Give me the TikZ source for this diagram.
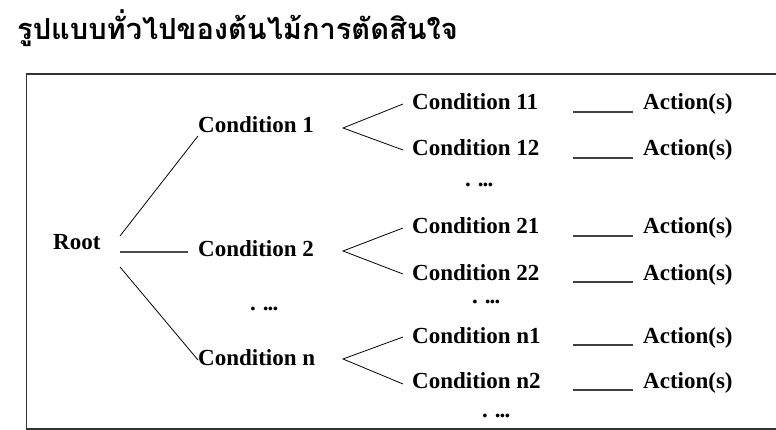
\documentclass[tikz,border=0pt]{standalone}
\usepackage{fontspec}
\setmainfont{Liberation Serif}
\newfontfamily\thaifont[Script=Thai]{Loma}
\newcommand\tdots{.\hspace{0.3em}.\kern-0.04em.\kern-0.04em.}
\begin{document}
\begin{tikzpicture}[x=1pt,y=-1pt,
  lbl/.style={font=\fontsize{23}{26}\selectfont\bfseries, inner sep=0pt, anchor=base west},
  dots/.style={font=\fontsize{23}{26}\selectfont\bfseries, inner sep=0pt, anchor=base west},
  branch/.style={draw=black, line width=0.8pt},
  actline/.style={draw=black!75, line width=1.2pt},
  frame/.style={draw=black!80, line width=1.3pt}]
\useasboundingbox (0,0) rectangle (776,430);
% title
\node[font=\thaifont\bfseries\fontsize{29}{32}\selectfont, inner sep=0pt, anchor=base west] (title) at (17,40) {รูปแบบทั่วไปของต้นไม้การตัดสินใจ};
% frame (open on right, cropped)
\draw[frame] (780,74) -- (26.5,74) -- (26.5,429) -- (780,429);
% level 0/1 nodes
\node[lbl] (root) at (53,250) {Root};
\node[lbl] (c1) at (198,133) {Condition 1};
\node[lbl] (c2) at (198,257) {Condition 2};
\node[lbl] (cn) at (198,365) {Condition n};
\node[dots] (d0) at (250,310) {\tdots};
% level 2 nodes
\node[lbl] (c11) at (412,110) {Condition 11};
\node[lbl] (c12) at (412,156) {Condition 12};
\node[dots] (d1) at (465,187) {\tdots};
\node[lbl] (c21) at (412,234) {Condition 21};
\node[lbl] (c22) at (412,280) {Condition 22};
\node[dots] (d2) at (472,303) {\tdots};
\node[lbl] (cn1) at (412,343) {Condition n1};
\node[lbl] (cn2) at (412,388) {Condition n2};
\node[dots] (d3) at (482,417) {\tdots};
% actions
\foreach \n/\y in {a11/110,a12/156,a21/234,a22/280,an1/343,an2/388}{
  \node[lbl] (\n) at (643,\y) {Action(s)};
  \coordinate (\n s) at (573,\y+2);
  \coordinate (\n e) at (633,\y+2);
  \draw[actline] (\n s) -- (\n e);
}
% root connectors
\coordinate (r1) at (120,236);
\coordinate (r2) at (120,252);
\coordinate (r3) at (120,267);
\coordinate (e1) at (198,136);
\coordinate (e2) at (188,252);
\coordinate (e3) at (198,360);
\draw[branch] (r1) -- (e1);
\draw[branch, draw=black!70, line width=1.1pt] (r2) -- (e2);
\draw[branch] (r3) -- (e3);
% forks
\coordinate (p1) at (343,128);
\coordinate (p2) at (343,251);
\coordinate (p3) at (343,359);
\coordinate (u1) at (403,104);
\coordinate (l1) at (403,150);
\coordinate (u2) at (403,228);
\coordinate (l2) at (403,274);
\coordinate (u3) at (403,337);
\coordinate (l3) at (403,384);
\draw[branch] (u1) -- (p1) -- (l1);
\draw[branch] (u2) -- (p2) -- (l2);
\draw[branch] (u3) -- (p3) -- (l3);
\end{tikzpicture}
\end{document}
